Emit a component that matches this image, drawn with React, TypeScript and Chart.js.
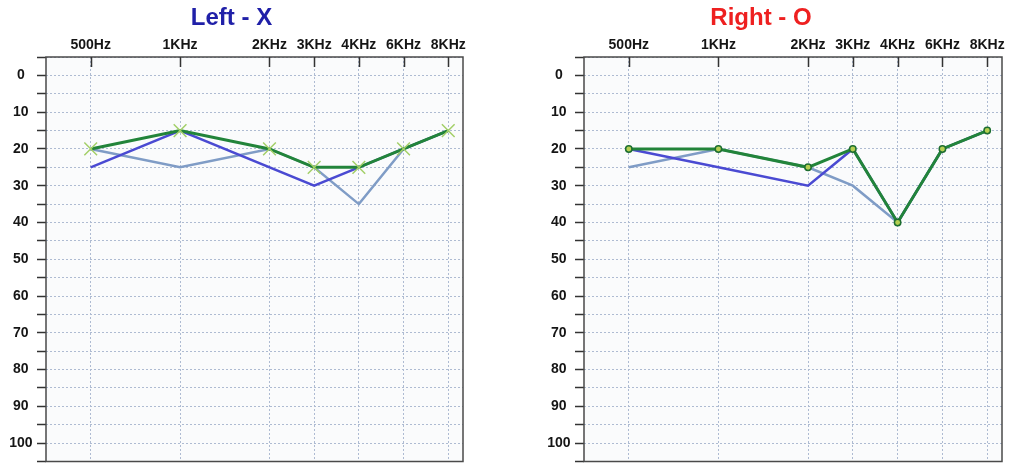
import React, { useEffect, useRef } from 'react';
import { Chart, registerables } from 'chart.js';

Chart.register(...registerables);

// ---- data ----
const freqLabels = ['500Hz', '1KHz', '2KHz', '3KHz', '4KHz', '6KHz', '8KHz'];
const freqPositions = [0, 2, 4, 5, 6, 7, 8];
const yLabelValues = [0, 10, 20, 30, 40, 50, 60, 70, 80, 90, 100];

const leftGreen = [20, 15, 20, 25, 25, 20, 15];
const leftBlue = [25, 15, null, 30, 25, 20, 15];
const leftSteel = [20, 25, 20, 25, 35, 20, 15];

const rightGreen = [20, 20, 25, 20, 40, 20, 15];
const rightBlue = [20, 25, 30, 20, 40, 20, 15];
const rightSteel = [25, 20, 25, 30, 40, 20, 15];

const FONT = '"Liberation Sans", Arial, Helvetica, sans-serif';

const toPoints = (vals: (number | null)[]) =>
  freqPositions.map((p, i) => ({ x: p, y: vals[i] }));

const framePlugin = {
  id: 'audioFrame',
  beforeDraw(chart: any) {
    const { ctx, chartArea: a } = chart;
    ctx.save();
    ctx.fillStyle = '#fafbfc';
    ctx.fillRect(a.left, a.top, a.right - a.left, a.bottom - a.top);
    ctx.restore();
  },
  afterDraw(chart: any) {
    const { ctx, chartArea: a } = chart;
    const xs = chart.scales.x;
    ctx.save();
    ctx.setLineDash([]);
    ctx.strokeStyle = '#4a4a4a';
    ctx.lineWidth = 1.5;
    ctx.strokeRect(a.left, a.top, a.right - a.left, a.bottom - a.top);
    ctx.strokeStyle = '#333';
    ctx.beginPath();
    freqPositions.forEach((p) => {
      const x = Math.round(xs.getPixelForValue(p)) + 0.5;
      ctx.moveTo(x, a.top);
      ctx.lineTo(x, a.top + 10);
    });
    ctx.stroke();
    ctx.restore();
  },
};

type Side = {
  title: string;
  titleColor: string;
  green: (number | null)[];
  blue: (number | null)[];
  steel: (number | null)[];
  marker: 'cross' | 'circle';
  yWidth: number;
  padRight: number;
  width: number;
  height: number;
};

function makeConfig(s: Side): any {
  const greenPoint =
    s.marker === 'cross'
      ? {
          pointStyle: 'crossRot',
          pointRadius: 9,
          pointBorderColor: '#a3cf68',
          pointBorderWidth: 1.5,
          pointBackgroundColor: '#a3cf68',
        }
      : {
          pointStyle: 'circle',
          pointRadius: 3.2,
          pointBorderColor: '#1d6e30',
          pointBorderWidth: 1.5,
          pointBackgroundColor: '#b4cf52',
        };
  return {
    type: 'line',
    data: {
      datasets: [
        {
          data: toPoints(s.green),
          borderColor: '#22843a',
          borderWidth: 3,
          ...greenPoint,
          tension: 0,
          spanGaps: true,
        },
        {
          data: toPoints(s.blue),
          borderColor: '#4a4ad2',
          borderWidth: 2.5,
          pointRadius: 0,
          tension: 0,
          spanGaps: true,
        },
        {
          data: toPoints(s.steel),
          borderColor: '#7f9cc6',
          borderWidth: 2.5,
          pointRadius: 0,
          tension: 0,
          spanGaps: true,
        },
      ],
    },
    options: {
      responsive: false,
      animation: false,
      events: [],
      layout: { padding: { top: 0, left: 0, right: s.padRight, bottom: 2 } },
      plugins: {
        legend: { display: false },
        tooltip: { enabled: false },
        title: {
          display: true,
          text: s.title,
          color: s.titleColor,
          font: { family: FONT, size: 24, weight: 'bold', lineHeight: 1.2 },
          padding: { top: 4, bottom: 0 },
        },
      },
      scales: {
        x: {
          type: 'linear',
          position: 'top',
          min: -1,
          max: 8.33,
          afterBuildTicks: (sc: any) => {
            sc.ticks = freqPositions.map((v) => ({ value: v }));
          },
          afterFit: (sc: any) => {
            sc.height = 57 - 32.8;
            sc.paddingLeft = 0;
            sc.paddingRight = 0;
          },
          ticks: {
            autoSkip: false,
            maxRotation: 0,
            padding: 3.5,
            color: '#151515',
            font: { family: FONT, size: 14, weight: 'bold' },
            callback: (v: number) => {
              const i = freqPositions.indexOf(v);
              return i >= 0 ? freqLabels[i] : '';
            },
          },
          grid: { color: '#aebbd2', lineWidth: 1, drawTicks: false },
          border: { display: false, dash: [2, 2] },
        },
        y: {
          type: 'linear',
          position: 'left',
          reverse: true,
          min: -5,
          max: 105,
          afterFit: (sc: any) => {
            sc.width = s.yWidth;
            sc.paddingTop = 0;
            sc.paddingBottom = 0;
          },
          ticks: {
            stepSize: 5,
            autoSkip: false,
            padding: 4.5,
            crossAlign: 'center',
            color: '#151515',
            font: { family: FONT, size: 14, weight: 'bold' },
            callback: (v: number) => (yLabelValues.includes(v) ? String(v) : ''),
          },
          grid: {
            color: '#aebbd2',
            lineWidth: 1,
            drawTicks: true,
            tickLength: 9,
            tickColor: '#333',
            tickWidth: 1.5,
            tickBorderDash: [],
          },
          border: { display: false, dash: [2, 2] },
        },
      },
    },
    plugins: [framePlugin],
  };
}

function AudioChart({ side, left }: { side: Side; left: number }) {
  const ref = useRef<HTMLCanvasElement | null>(null);
  useEffect(() => {
    if (!ref.current) return;
    const chart = new Chart(ref.current, makeConfig(side));
    return () => chart.destroy();
  }, [side]);
  return (
    <canvas
      ref={ref}
      width={side.width}
      height={side.height}
      style={{ position: 'absolute', left, top: 0, width: side.width, height: side.height }}
    />
  );
}

// canvas heights include the marker overflow reserve Chart.js adds below the plot
const leftSide: Side = {
  title: 'Left - X',
  titleColor: '#2020a8',
  green: leftGreen,
  blue: leftBlue,
  steel: leftSteel,
  marker: 'cross',
  yWidth: 46,
  padRight: 57,
  width: 520,
  height: 472,
};

const rightSide: Side = {
  title: 'Right - O',
  titleColor: '#ee2020',
  green: rightGreen,
  blue: rightBlue,
  steel: rightSteel,
  marker: 'circle',
  yWidth: 64,
  padRight: 93,
  width: 575,
  height: 467,
};

export default function App() {
  return (
    <div
      style={{
        position: 'absolute',
        left: 0,
        top: 0,
        width: 1013,
        height: 464,
        overflow: 'hidden',
        background: '#ffffff',
      }}
    >
      <AudioChart side={leftSide} left={0} />
      <AudioChart side={rightSide} left={520} />
    </div>
  );
}
